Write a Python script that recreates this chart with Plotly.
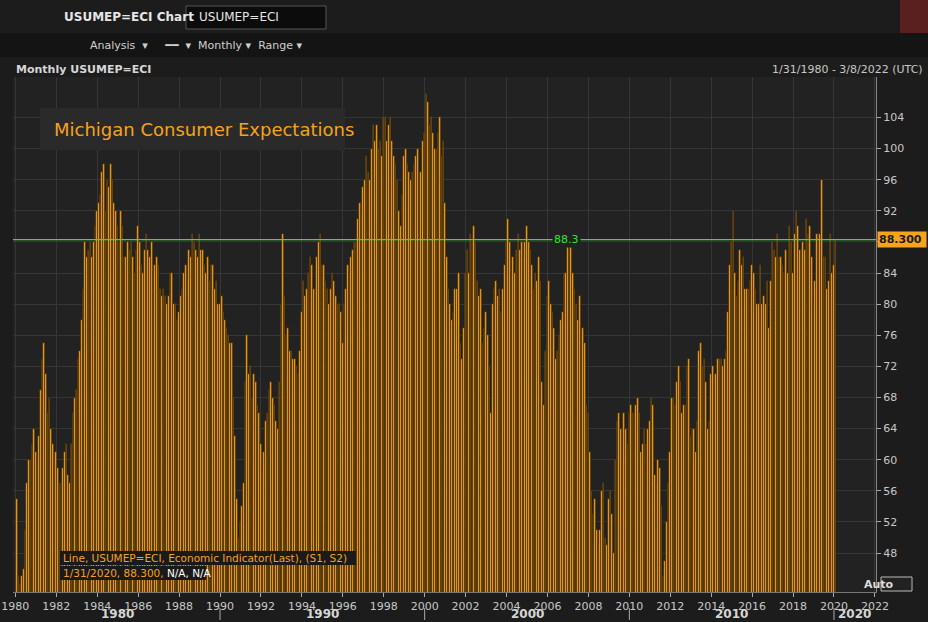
import plotly.graph_objects as go
import pandas as pd

# Monthly Michigan consumer expectations, Jan 1980 .. Jan 2020
y1980 = [55, 45, 44, 45, 46, 51, 57, 60, 60, 62, 64, 61]
y1981 = [60, 63, 69, 73, 75, 71, 66, 68, 64, 62, 60, 61]
y1982 = [59, 57, 57, 59, 61, 62, 58, 57, 62, 66, 68, 69]
y1983 = [73, 74, 78, 82, 88, 86, 87, 88, 86, 88, 90, 92]
y1984 = [93, 94, 97, 98, 92, 96, 95, 98, 96, 93, 92, 90]
y1985 = [88, 92, 90, 86, 86, 88, 87, 88, 86, 84, 87, 90]
y1986 = [88, 85, 84, 87, 89, 87, 86, 88, 84, 85, 86, 85]
y1987 = [82, 81, 82, 81, 80, 81, 84, 84, 80, 80, 78, 79]
y1988 = [81, 82, 84, 85, 83, 87, 86, 89, 88, 87, 86, 89]
y1989 = [87, 87, 85, 84, 86, 83, 85, 85, 82, 83, 80, 80]
y1990 = [81, 79, 78, 77, 76, 75, 75, 68, 63, 55, 50, 52]
y1991 = [54, 57, 70, 76, 71, 72, 68, 71, 70, 67, 66, 62]
y1992 = [59, 61, 65, 66, 69, 70, 68, 67, 65, 64, 70, 80]
y1993 = [89, 81, 76, 77, 74, 74, 73, 73, 72, 71, 74, 79]
y1994 = [83, 81, 82, 84, 86, 85, 82, 82, 86, 88, 89, 85]
y1995 = [85, 83, 82, 80, 82, 84, 83, 81, 80, 80, 79, 75]
y1996 = [80, 82, 85, 84, 86, 87, 88, 88, 91, 93, 92, 95]
y1997 = [96, 99, 97, 96, 100, 103, 101, 103, 100, 101, 99, 104]
y1998 = [104, 101, 103, 104, 101, 99, 98, 96, 92, 90, 94, 99]
y1999 = [100, 98, 97, 96, 97, 98, 99, 100, 97, 97, 101, 102]
y2000 = [107, 106, 103, 104, 102, 100, 100, 102, 104, 99, 101, 93]
y2001 = [86, 82, 80, 78, 79, 82, 82, 84, 75, 73, 77, 84]
y2002 = [87, 84, 89, 88, 90, 88, 83, 81, 82, 75, 77, 79]
y2003 = [76, 72, 66, 80, 82, 83, 81, 82, 79, 82, 85, 88]
y2004 = [91, 88, 84, 86, 84, 87, 89, 87, 88, 86, 88, 90]
y2005 = [88, 87, 85, 82, 84, 83, 86, 83, 70, 67, 74, 81]
y2006 = [83, 80, 79, 77, 73, 74, 76, 78, 79, 84, 84, 88]
y2007 = [87, 88, 84, 82, 80, 78, 81, 76, 77, 75, 67, 66]
y2008 = [61, 56, 53, 55, 51, 49, 51, 56, 57, 50, 49, 55]
y2009 = [56, 53, 48, 60, 65, 66, 64, 60, 66, 64, 62, 66]
y2010 = [67, 66, 66, 67, 68, 66, 61, 62, 64, 62, 64, 65]
y2011 = [68, 67, 58, 57, 60, 59, 54, 45, 47, 52, 57, 61]
y2012 = [68, 68, 67, 70, 72, 70, 66, 67, 67, 72, 73, 63]
y2013 = [64, 64, 61, 65, 74, 75, 72, 73, 70, 64, 65, 71]
y2014 = [72, 71, 71, 73, 73, 73, 72, 73, 74, 79, 85, 88]
y2015 = [92, 84, 81, 83, 87, 85, 86, 82, 82, 82, 83, 85]
y2016 = [84, 82, 80, 80, 85, 80, 81, 80, 83, 77, 83, 88]
y2017 = [87, 86, 89, 86, 86, 85, 84, 87, 84, 90, 88, 84]
y2018 = [89, 92, 90, 87, 87, 88, 87, 91, 89, 90, 86, 80]
y2019 = [83, 89, 88, 89, 96, 86, 86, 82, 83, 89, 84, 85]
y2020 = [88.3]

values = (y1980 + y1981 + y1982 + y1983 + y1984 + y1985 + y1986 + y1987 + y1988 + y1989
          + y1990 + y1991 + y1992 + y1993 + y1994 + y1995 + y1996 + y1997 + y1998 + y1999
          + y2000 + y2001 + y2002 + y2003 + y2004 + y2005 + y2006 + y2007 + y2008 + y2009
          + y2010 + y2011 + y2012 + y2013 + y2014 + y2015 + y2016 + y2017 + y2018 + y2019
          + y2020)
dates = pd.date_range("1980-01-31", periods=len(values), freq="ME")
last_value = 88.3
decades = ["1980", "1990", "2000", "2010", "2020"]
decade_centers = ["1985-01-01", "1995-01-01", "2005-01-01", "2015-01-01", "2021-01-01"]
y_ticks = list(range(48, 105, 4))

ORANGE = "#f7a21b"
fig = go.Figure()
fig.add_trace(go.Bar(x=dates, y=values,
                     marker=dict(color=ORANGE, line=dict(width=0.7, color="#3a2608")),
                     showlegend=False, hoverinfo="x+y"))

fig.add_hline(y=last_value, line=dict(color="#2ee62a", width=1.2))

X0, X1 = "1979-11-20", "2022-01-20"
fig.update_layout(
    width=928, height=622,
    margin=dict(l=0, r=0, t=0, b=0, autoexpand=False),
    paper_bgcolor="#1c1c1c", plot_bgcolor="#222222",
    bargap=0,
    font=dict(family="DejaVu Sans", size=11, color="#c8c8c8"),
    xaxis=dict(domain=[13 / 928, 876 / 928], type="date", range=[X0, X1],
               dtick="M24", tick0="1980-01-01", tickformat="%Y", automargin=False,
               showgrid=True, gridcolor="#363636", ticks="outside", ticklen=4,
               tickcolor="#aaaaaa", showline=True, linecolor="#777777",
               anchor="y", tickfont=dict(size=11, color="#c8c8c8")),
    yaxis=dict(domain=[30 / 622, 545 / 622], range=[43, 109.2], side="right",
               tickvals=y_ticks, showgrid=True, gridcolor="#363636", automargin=False,
               ticks="outside", ticklen=4, tickcolor="#aaaaaa", zeroline=False,
               showline=True, linecolor="#888888", tickfont=dict(size=11, color="#c8c8c8")),
)

shapes = [
    # window chrome
    dict(type="rect", xref="paper", yref="paper", x0=0, x1=1, y0=589 / 622, y1=1,
         fillcolor="#2b2b2b", line=dict(width=0), layer="below"),
    dict(type="rect", xref="paper", yref="paper", x0=0, x1=1, y0=565 / 622, y1=589 / 622,
         fillcolor="#141414", line=dict(width=0), layer="below"),
    dict(type="rect", xref="paper", yref="paper", x0=186 / 928, x1=326 / 928, y0=593 / 622,
         y1=616 / 622, fillcolor="#0c0c0c", line=dict(color="#555", width=1)),
    dict(type="rect", xref="paper", yref="paper", x0=900 / 928, x1=1, y0=589 / 622, y1=1,
         fillcolor="#5a1f1f", line=dict(width=0)),
    # title box
    dict(type="rect", xref="paper", yref="paper", x0=40 / 928, x1=345 / 928, y0=472 / 622,
         y1=514 / 622, fillcolor="#2a2a2a", line=dict(width=0)),
    # legend boxes
    dict(type="rect", xref="paper", yref="paper", x0=60 / 928, x1=356 / 928, y0=(622 - 565) / 622,
         y1=(622 - 551) / 622, fillcolor="#1a1a1a", line=dict(width=0)),
    dict(type="rect", xref="paper", yref="paper", x0=60 / 928, x1=206 / 928, y0=(622 - 580) / 622,
         y1=(622 - 566) / 622, fillcolor="#1a1a1a", line=dict(width=0)),
    # Auto button
    dict(type="rect", xref="paper", yref="paper", x0=881 / 928, x1=912 / 928, y0=(622 - 591) / 622,
         y1=(622 - 577) / 622, fillcolor="#222", line=dict(color="#bbb", width=1)),
]
# decade separators
for d in ["1990-01-01", "2000-01-01", "2010-01-01", "2020-01-01"]:
    shapes.append(dict(type="line", xref="x", yref="paper", x0=d, x1=d, y0=2 / 622, y1=14 / 622,
                       line=dict(color="#aaa", width=1)))
fig.update_layout(shapes=shapes)

ann = [
    dict(x=62 / 928, y=605 / 622, text="<b>USUMEP=ECI Chart</b>", font=dict(size=12, color="#e6e6e6"), xanchor="left"),
    dict(x=197 / 928, y=605 / 622, text="USUMEP=ECI", font=dict(size=12, color="#e6e6e6"), xanchor="left"),
    dict(x=88 / 928, y=577 / 622, text="Analysis  ▾     ━━  ▾  Monthly ▾  Range ▾",
         font=dict(size=11, color="#d0d0d0"), xanchor="left"),
    dict(x=14 / 928, y=553 / 622, text="<b>Monthly USUMEP=ECI</b>", font=dict(size=11, color="#d6d6d6"), xanchor="left"),
    dict(x=925 / 928, y=553 / 622, text="1/31/1980 - 3/8/2022 (UTC)", font=dict(size=11, color="#c8c8c8"), xanchor="right"),
    dict(x=52 / 928, y=493 / 622, text="Michigan Consumer Expectations", font=dict(size=18, color=ORANGE), xanchor="left"),
    dict(x=877 / 928, y=last_value, yref="y", text="<b>88.300</b>", font=dict(size=11, color="#1a1a1a"),
         bgcolor=ORANGE, xanchor="left", width=46, height=13, align="left"),
    dict(x="2006-12-15", y=last_value, xref="x", yref="y", text="88.3", font=dict(size=11, color="#2ee62a"),
         showarrow=False, bgcolor="#222222"),
    dict(x=61 / 928, y=(622 - 558) / 622, text="Line, USUMEP=ECI, Economic Indicator(Last), (S1, S2)",
         font=dict(size=10.5, color=ORANGE), xanchor="left"),
    dict(x=61 / 928, y=(622 - 573) / 622,
         text="1/31/2020, 88.300, <span style='color:#ffffff'>N/A, N/A</span>",
         font=dict(size=10.5, color=ORANGE), xanchor="left"),
    dict(x=896 / 928, y=(622 - 584) / 622, text="<b>Auto</b>", font=dict(size=11, color="#dddddd")),
]
for lab, c in zip(decades, decade_centers):
    ann.append(dict(x=c, xref="x", y=8 / 622, text=f"<b>{lab}</b>", font=dict(size=12, color="#d6d6d6")))
for a in ann:
    a.setdefault("xref", "paper")
    a.setdefault("yref", "paper")
    a.setdefault("showarrow", False)
    a.setdefault("yanchor", "middle")
fig.update_layout(annotations=ann)

# drop the default page margin so the figure sits at the window's corner
fig.write_html("out.html", config={"displayModeBar": False},
               post_script="document.body.style.margin='0';"
               "document.body.style.background='#1c1c1c';")
